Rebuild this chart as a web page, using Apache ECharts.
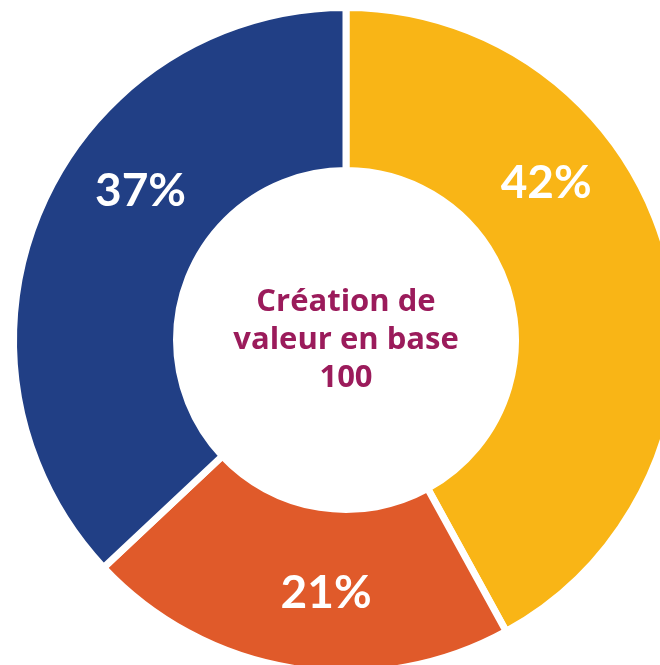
<!DOCTYPE html>
<html>
<head>
<meta charset="utf-8">
<script src="https://cdn.jsdelivr.net/npm/echarts@6/dist/echarts.min.js"></script>
<style>
    html, body { margin: 0; padding: 0; background: #fff; }
    #chart { width: 660px; height: 665px; }
</style>
</head>
<body>
<div id="chart"></div>
<script>
// données
var categories = ['A', 'B', 'C'];
var values = [42, 21, 37];
var labels = ['42%', '21%', '37%'];
var centerText = 'Création de\nvaleur en base\n100';

var colors = ['#F9B516', '#E05A2A', '#213F85'];
// angle (degrés, sens horaire depuis le haut) où chaque étiquette a été placée
var labelAngles = [52, 184.5, 306];

var cx = 346, cy = 340, labelR = 254;

var chart = echarts.init(document.getElementById('chart'));

var option = {
    animation: false,
    series: [
        {
            type: 'pie',
            center: [cx, cy],
            radius: [169.5, 332.5],
            startAngle: 90,
            clockwise: true,
            silent: true,
            itemStyle: {
                borderColor: '#fff',
                borderWidth: 7
            },
            label: {
                show: true,
                position: 'inside',
                color: '#fff',
                fontFamily: 'Lato',
                fontWeight: 'bold',
                fontSize: 46,
                formatter: function (p) { return labels[p.dataIndex]; }
            },
            labelLine: { show: false },
            labelLayout: function (p) {
                var a = labelAngles[p.dataIndex] * Math.PI / 180;
                return {
                    x: cx + labelR * Math.sin(a),
                    y: cy - labelR * Math.cos(a),
                    align: 'center',
                    verticalAlign: 'middle'
                };
            },
            data: categories.map(function (c, i) {
                return { name: c, value: values[i], itemStyle: { color: colors[i] } };
            })
        },
        {
            // texte central
            type: 'pie',
            center: [cx, cy],
            radius: [0, 160],
            silent: true,
            itemStyle: { color: 'rgba(0,0,0,0)' },
            label: {
                show: true,
                position: 'center',
                color: '#9B1B5B',
                fontFamily: 'Open Sans',
                fontWeight: 'bold',
                fontSize: 31,
                lineHeight: 38,
                formatter: centerText
            },
            labelLine: { show: false },
            data: [{ name: 'centre', value: 1 }]
        }
    ]
};

chart.setOption(option);
</script>
</body>
</html>
